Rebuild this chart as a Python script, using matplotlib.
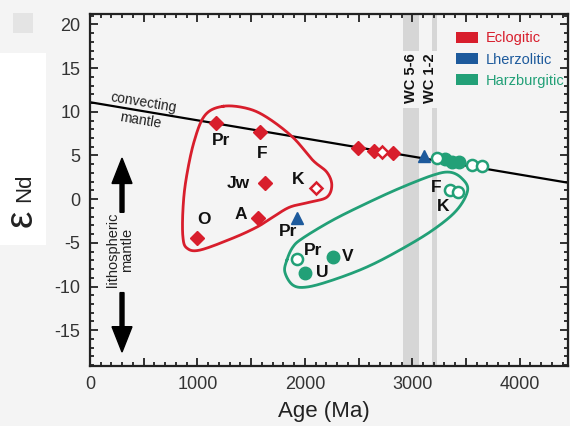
import numpy as np
import matplotlib
matplotlib.use("Agg")
import matplotlib.pyplot as plt
from matplotlib.patches import Patch, Rectangle
from matplotlib.ticker import MultipleLocator, FuncFormatter

plt.rcParams["font.family"] = ["Liberation Sans", "DejaVu Sans"]
plt.rcParams["axes.unicode_minus"] = False

RED = "#d81e2c"
BLUE = "#1d5a9c"
GREEN = "#22a077"
BG = "#f4f4f4"

# convecting (depleted) mantle evolution line
mantle_age = [0, 4500]
mantle_eps = [11.1, 1.78]

# eclogitic inclusions (diamonds)
ecl_age = [1172, 1581, 1628, 1563, 995, 2493, 2642, 2819]
ecl_eps = [8.7, 7.7, 1.8, -2.1, -4.5, 5.9, 5.5, 5.3]
ecl_open_age = [2102, 2716]
ecl_open_eps = [1.3, 5.4]

# lherzolitic inclusions (triangles)
lhz_age = [1926, 3107]
lhz_eps = [-2.1, 4.9]

# harzburgitic inclusions (circles)
hz_age = [2000, 2260, 3302, 3367, 3433]
hz_eps = [-8.5, -6.6, 4.6, 4.3, 4.2]
hz_open_age = [1926, 3349, 3423, 3228, 3553, 3647]
hz_open_eps = [-6.9, 1.1, 0.8, 4.7, 3.9, 3.8]

# point labels
ecl_lbl = ["Pr", "F", "Jw", "K", "A", "O"]
ecl_lbl_age = [1219, 1600, 1377, 1935, 1405, 1060]
ecl_lbl_eps = [6.74, 5.26, 1.83, 2.29, -1.71, -2.29]
lhz_lbl = ["Pr"]
lhz_lbl_age = [1842]
lhz_lbl_eps = [-3.66]
hz_lbl = ["Pr", "U", "V", "F", "K"]
hz_lbl_age = [2074, 2158, 2400, 3219, 3284]
hz_lbl_eps = [-5.83, -8.34, -6.51, 1.37, -0.8]

# field outlines
ecl_field_age = [1237, 1460, 1647, 1888, 2074, 2205, 2251, 2205, 2047, 1860,
                 1702, 1553, 1330, 1023, 902, 865, 865, 893, 967, 1070]
ecl_field_eps = [10.63, 10.4, 9.37, 7.09, 4.46, 3.09, 1.6, 0.23, -0.34, -0.91,
                 -2.06, -3.2, -4.46, -5.83, -5.6, -4.34, -1.26, 2.17, 6.51, 9.6]
hz_field_age = [1833, 1888, 1981, 2260, 2577, 2884, 3191, 3349, 3460, 3516,
                3414, 3191, 2884, 2577, 2260, 2019, 1888, 1814]
hz_field_eps = [-6.97, -5.49, -4.46, -2.4, -0.46, 1.26, 2.74, 3.09, 2.4, 1.03,
                -1.26, -3.54, -5.83, -7.77, -9.26, -10.06, -9.83, -8.34]

# Witwatersrand conglomerate age bands
wc_names = ["WC 5-6", "WC 1-2"]
wc_left = [2912, 3180]
wc_right = [3060, 3230]
wc_text_age = [2986, 3163]


def closed_curve(x, y, n=30):
    """Closed Catmull-Rom spline through the given points."""
    pts = np.column_stack([x, y]).astype(float)
    m = len(pts)
    t = np.linspace(0, 1, n, endpoint=False)[:, None]
    segs = []
    for i in range(m):
        p0, p1, p2, p3 = pts[i - 1], pts[i], pts[(i + 1) % m], pts[(i + 2) % m]
        segs.append(0.5 * (2 * p1 + (-p0 + p2) * t
                           + (2 * p0 - 5 * p1 + 4 * p2 - p3) * t ** 2
                           + (-p0 + 3 * p1 - 3 * p2 + p3) * t ** 3))
    out = np.vstack(segs + [segs[0][:1]])
    return out[:, 0], out[:, 1]


fig = plt.figure(figsize=(5.7, 4.26), dpi=100, facecolor=BG)
fig.patches.append(Rectangle((0, 1 - 245 / 426), 46 / 570, 192 / 426,
                             transform=fig.transFigure, facecolor="white",
                             edgecolor="none", zorder=-1))
fig.patches.append(Rectangle((13 / 570, 1 - 33 / 426), 20 / 570, 20 / 426,
                             transform=fig.transFigure, facecolor="#e4e4e4",
                             edgecolor="none", zorder=-1))

ax = fig.add_axes([90 / 570, 1 - 366 / 426, 478 / 570, 352 / 426])
ax.set_facecolor(BG)
ax.set_xlim(0, 4450)
ax.set_ylim(-19.1, 21.2)

# age bands, interrupted where the labels sit
for name, x0, x1, xt in zip(wc_names, wc_left, wc_right, wc_text_age):
    ax.fill_betweenx([10.4, -19.1], x0, x1, color="#d6d6d6", lw=0, zorder=0.5)
    ax.fill_betweenx([21.2, 17.0], x0, x1, color="#d6d6d6", lw=0, zorder=0.5)
    ax.text(xt, 13.9, name, rotation=90, ha="center", va="center",
            fontsize=10.5, fontweight="bold", color="#111")

ax.plot(mantle_age, mantle_eps, color="black", lw=1.6, zorder=2)
ax.text(493, 11.0, "convecting", rotation=-9.5, ha="center", va="center",
        fontsize=10, color="#222")
ax.text(465, 9.0, "mantle", rotation=-9.5, ha="center", va="center",
        fontsize=10, color="#222")

fx, fy = closed_curve(ecl_field_age, ecl_field_eps)
ax.plot(fx, fy, color=RED, lw=2.0, zorder=2)
fx, fy = closed_curve(hz_field_age, hz_field_eps)
ax.plot(fx, fy, color=GREEN, lw=2.0, zorder=2)

ax.plot(ecl_age, ecl_eps, "D", ms=7, color=RED, mec=RED, zorder=3, ls="none")
ax.plot(ecl_open_age, ecl_open_eps, "D", ms=6, mfc="white", mec=RED, mew=1.8,
        zorder=3, ls="none")
ax.plot(lhz_age, lhz_eps, "^", ms=9, color=BLUE, zorder=3, ls="none")
ax.plot(hz_age, hz_eps, "o", ms=9, color=GREEN, zorder=3, ls="none")
ax.plot(hz_open_age, hz_open_eps, "o", ms=8, mfc="white", mec=GREEN, mew=1.8,
        zorder=3, ls="none")

for labels, xs, ys in [(ecl_lbl, ecl_lbl_age, ecl_lbl_eps),
                       (lhz_lbl, lhz_lbl_age, lhz_lbl_eps),
                       (hz_lbl, hz_lbl_age, hz_lbl_eps)]:
    for s, x, y in zip(labels, xs, ys):
        ax.text(x, y, s, ha="center", va="center", fontsize=12.5,
                fontweight="bold", color="#111", zorder=4)

# lithospheric mantle arrows
ax.arrow(298, -1.5, 0, 6.2, width=37, head_width=186, head_length=2.9,
         length_includes_head=True, color="black", zorder=3)
ax.arrow(298, -10.7, 0, -6.8, width=37, head_width=186, head_length=2.9,
         length_includes_head=True, color="black", zorder=3)
ax.text(279, -5.8, "lithospheric\nmantle", rotation=90, ha="center",
        va="center", fontsize=10.5, linespacing=1.05, color="#222")

handles = [Patch(facecolor=RED, edgecolor="none"),
           Patch(facecolor=BLUE, edgecolor="none"),
           Patch(facecolor=GREEN, edgecolor="none")]
leg = ax.legend(handles, ["Eclogitic", "Lherzolitic", "Harzburgitic"],
                loc="upper left", bbox_to_anchor=(0.766, 0.951), frameon=False,
                fontsize=10.5, handlelength=1.5, handleheight=0.8,
                handletextpad=0.55, labelspacing=0.5, borderpad=0,
                borderaxespad=0)
for txt, c in zip(leg.get_texts(), [RED, BLUE, GREEN]):
    txt.set_color(c)

ax.xaxis.set_major_locator(MultipleLocator(500))
ax.xaxis.set_minor_locator(MultipleLocator(100))
ax.xaxis.set_major_formatter(FuncFormatter(
    lambda v, p: f"{int(v)}" if v % 1000 == 0 else ""))
ax.yaxis.set_major_locator(MultipleLocator(5))
ax.yaxis.set_minor_locator(MultipleLocator(1))
ax.tick_params(which="both", direction="in", top=True, right=True,
               color="#222", width=1.3, labelsize=13, labelcolor="#333")
ax.tick_params(which="major", length=6, pad=7)
ax.tick_params(which="minor", length=3)
for sp in ax.spines.values():
    sp.set_linewidth(1.6)
    sp.set_color("#222")

ax.set_xlabel("Age (Ma)", fontsize=16, color="#222", va="center")
ax.xaxis.set_label_coords(0.49, -0.13)

fig.text(22 / 570, 1 - 218 / 426, "ε", rotation=90, ha="center",
         va="center", fontsize=28, color="#222")
fig.text(25 / 570, 1 - 188 / 426, "Nd", rotation=90, ha="center",
         va="center", fontsize=16, color="#222")

fig.savefig("out.png", dpi=100, facecolor=BG)
